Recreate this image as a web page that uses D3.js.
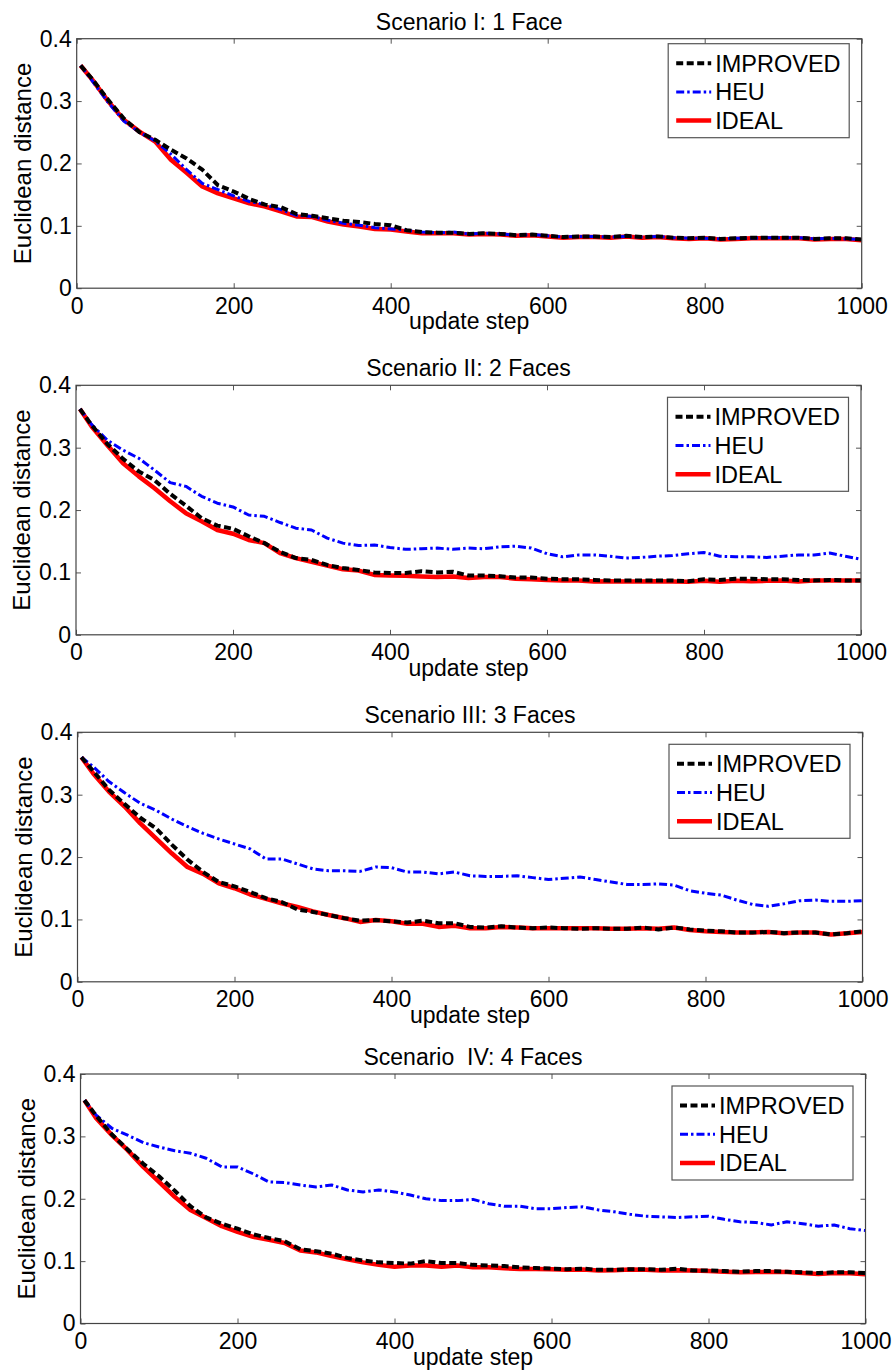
<!doctype html>
<html>
<head>
<meta charset="utf-8">
<script src="https://d3js.org/d3.v7.min.js"></script>
<style>
body { margin:0; background:#fff; }
svg text { font-family: "Liberation Sans", Arial, sans-serif; fill:#000; }
</style>
</head>
<body>
<script>
// update steps shared by every series
var steps = [5,20,40,60,80,100,120,140,160,180,200,220,240,260,280,300,320,340,360,380,400,420,440,460,480,500,520,540,560,580,600,620,640,660,680,700,720,740,760,780,800,820,840,860,880,900,920,940,960,980,1000];

var titles = ['Scenario I: 1 Face', 'Scenario II: 2 Faces', 'Scenario III: 3 Faces', 'Scenario  IV: 4 Faces'];
var seriesNames = ['IMPROVED', 'HEU', 'IDEAL'];
var xTicks = [0,200,400,600,800,1000];
var yTicks = [0,0.1,0.2,0.3,0.4];

// Scenario I
var improved1 = [0.357,0.335,0.302,0.272,0.250,0.238,0.222,0.208,0.190,0.165,0.155,0.143,0.134,0.130,0.119,0.116,0.112,0.108,0.106,0.103,0.101,0.093,0.090,0.089,0.089,0.087,0.088,0.087,0.085,0.086,0.084,0.082,0.083,0.083,0.082,0.084,0.082,0.083,0.081,0.080,0.081,0.079,0.080,0.081,0.081,0.081,0.081,0.079,0.080,0.080,0.078];
var heu1 = [0.357,0.332,0.298,0.268,0.250,0.236,0.215,0.190,0.168,0.158,0.148,0.139,0.134,0.126,0.117,0.115,0.109,0.104,0.101,0.097,0.095,0.093,0.090,0.089,0.090,0.087,0.088,0.087,0.085,0.086,0.084,0.082,0.083,0.083,0.082,0.083,0.082,0.083,0.081,0.080,0.080,0.079,0.080,0.080,0.081,0.081,0.081,0.079,0.080,0.079,0.078];
var ideal1 = [0.357,0.334,0.300,0.270,0.251,0.235,0.206,0.185,0.163,0.152,0.144,0.136,0.131,0.123,0.115,0.114,0.107,0.102,0.099,0.095,0.094,0.091,0.088,0.088,0.088,0.086,0.087,0.086,0.084,0.085,0.083,0.081,0.082,0.082,0.081,0.083,0.081,0.082,0.080,0.079,0.080,0.078,0.079,0.080,0.080,0.080,0.080,0.078,0.079,0.079,0.077];

// Scenario II
var improved2 = [0.362,0.336,0.306,0.282,0.262,0.248,0.226,0.207,0.187,0.175,0.170,0.158,0.147,0.133,0.123,0.120,0.112,0.107,0.104,0.100,0.099,0.099,0.102,0.100,0.101,0.095,0.095,0.094,0.092,0.092,0.090,0.089,0.089,0.088,0.087,0.087,0.087,0.087,0.087,0.086,0.089,0.088,0.090,0.090,0.089,0.089,0.088,0.087,0.088,0.087,0.087];
var heu2 = [0.362,0.337,0.312,0.296,0.283,0.264,0.244,0.238,0.222,0.211,0.205,0.192,0.190,0.180,0.171,0.168,0.155,0.147,0.143,0.144,0.140,0.137,0.138,0.139,0.137,0.139,0.138,0.141,0.142,0.139,0.130,0.125,0.128,0.128,0.126,0.123,0.124,0.126,0.127,0.130,0.132,0.126,0.125,0.125,0.124,0.126,0.128,0.128,0.131,0.126,0.121];
var ideal2 = [0.362,0.334,0.304,0.275,0.254,0.235,0.214,0.195,0.182,0.168,0.162,0.152,0.147,0.131,0.123,0.117,0.111,0.105,0.103,0.096,0.095,0.0945,0.0935,0.0925,0.0935,0.091,0.0925,0.0925,0.090,0.089,0.088,0.087,0.087,0.0855,0.086,0.0855,0.0855,0.086,0.0855,0.085,0.0865,0.085,0.0865,0.086,0.0865,0.087,0.0855,0.087,0.087,0.087,0.087];

// Scenario III
var improved3 = [0.360,0.338,0.308,0.285,0.263,0.246,0.220,0.196,0.176,0.160,0.153,0.144,0.134,0.128,0.116,0.112,0.107,0.102,0.098,0.099,0.097,0.095,0.098,0.094,0.094,0.088,0.087,0.089,0.087,0.086,0.087,0.086,0.085,0.086,0.085,0.085,0.087,0.084,0.087,0.084,0.082,0.081,0.079,0.079,0.080,0.078,0.079,0.079,0.076,0.078,0.081];
var heu3 = [0.360,0.345,0.321,0.303,0.286,0.275,0.261,0.249,0.238,0.229,0.221,0.213,0.197,0.197,0.189,0.181,0.178,0.178,0.177,0.184,0.183,0.176,0.176,0.173,0.176,0.170,0.169,0.169,0.170,0.167,0.164,0.166,0.168,0.164,0.160,0.156,0.156,0.157,0.155,0.146,0.142,0.139,0.131,0.124,0.121,0.125,0.130,0.131,0.129,0.129,0.130];
var ideal3 = [0.360,0.334,0.305,0.281,0.254,0.230,0.206,0.184,0.173,0.158,0.150,0.140,0.133,0.126,0.120,0.113,0.107,0.102,0.096,0.099,0.097,0.093,0.093,0.088,0.090,0.086,0.086,0.088,0.087,0.086,0.086,0.086,0.086,0.086,0.085,0.085,0.086,0.085,0.087,0.083,0.081,0.080,0.079,0.079,0.080,0.078,0.079,0.079,0.076,0.078,0.080];

// Scenario IV
var improved4 = [0.358,0.333,0.303,0.279,0.256,0.236,0.213,0.188,0.170,0.160,0.152,0.143,0.137,0.132,0.119,0.116,0.112,0.105,0.101,0.098,0.097,0.096,0.100,0.097,0.097,0.094,0.093,0.092,0.090,0.089,0.088,0.087,0.088,0.086,0.086,0.087,0.087,0.086,0.088,0.085,0.085,0.084,0.083,0.084,0.084,0.083,0.082,0.081,0.082,0.082,0.081];
var heu4 = [0.358,0.334,0.313,0.302,0.290,0.283,0.277,0.273,0.265,0.251,0.251,0.240,0.227,0.226,0.222,0.219,0.222,0.214,0.211,0.214,0.211,0.206,0.200,0.197,0.197,0.199,0.192,0.188,0.188,0.184,0.184,0.186,0.187,0.182,0.179,0.175,0.172,0.171,0.170,0.171,0.172,0.167,0.163,0.162,0.158,0.163,0.160,0.156,0.158,0.152,0.149];
var ideal4 = [0.358,0.329,0.302,0.278,0.251,0.227,0.203,0.182,0.169,0.156,0.147,0.139,0.134,0.129,0.117,0.114,0.108,0.103,0.098,0.094,0.091,0.093,0.093,0.091,0.093,0.090,0.090,0.0885,0.0875,0.0875,0.087,0.086,0.0865,0.085,0.0855,0.0865,0.086,0.085,0.0855,0.085,0.084,0.083,0.082,0.0825,0.0825,0.0825,0.081,0.0795,0.081,0.0805,0.079];

var panels = [
	{title:titles[0], left:76.7, top:38.7, legTop:5,  data:[improved1, heu1, ideal1]},
	{title:titles[1], left:76,   top:385.3, legTop:12, data:[improved2, heu2, ideal2]},
	{title:titles[2], left:77.5, top:732.3, legTop:12, data:[improved3, heu3, ideal3]},
	{title:titles[3], left:80.5, top:1074, legTop:12, data:[improved4, heu4, ideal4]}
];
var pW = 785, pH = 249.5;

// line looks: IMPROVED, HEU, IDEAL
var styles = [
	{color:'#000000', width:4, dash:'7,3.5'},
	{color:'#0000ff', width:3, dash:'8,3,2.5,3'},
	{color:'#ff0000', width:4.5, dash:null}
];
var drawOrder = [2, 1, 0];

var svg = d3.select('body').append('svg')
	.attr('width', 893).attr('height', 1370)
	.style('display','block');
svg.append('rect').attr('width',893).attr('height',1370).attr('fill','#fff');

panels.forEach(function(p, pi) {
	var g = svg.append('g').attr('transform','translate(' + p.left + ',' + p.top + ')');
	var xScale = d3.scaleLinear().domain([0,1000]).range([0,pW]);
	var yScale = d3.scaleLinear().domain([0,0.4]).range([pH,0]);

	g.append('clipPath').attr('id','clip'+pi)
		.append('rect').attr('width',pW).attr('height',pH);

	// axes, ticks pointing inward like matlab
	var xAxis = d3.axisBottom(xScale).tickValues(xTicks).tickSize(-5).tickPadding(9).tickFormat(d3.format('d'));
	var yAxis = d3.axisLeft(yScale).tickValues(yTicks).tickSize(-5).tickPadding(5).tickFormat(function(d){ return d === 0 ? '0' : d3.format('.1f')(d); });
	var gx = g.append('g').attr('transform','translate(0,' + pH + ')').call(xAxis);
	var gy = g.append('g').call(yAxis);
	var gt = g.append('g').call(d3.axisTop(xScale).tickValues(xTicks).tickSize(-5).tickFormat(''));
	var gr = g.append('g').attr('transform','translate(' + pW + ',0)').call(d3.axisRight(yScale).tickValues(yTicks).tickSize(-5).tickFormat(''));
	[gx, gy, gt, gr].forEach(function(a) {
		a.select('.domain').remove();
		a.selectAll('line').attr('stroke','#555');
		a.selectAll('text').style('font-size','23px').attr('fill','#000');
	});
	gx.selectAll('text').attr('dy','0.71em');

	// series
	var line = d3.line()
		.x(function(d,i){ return xScale(steps[i]); })
		.y(function(d){ return yScale(d); });
	var lg = g.append('g').attr('clip-path','url(#clip' + pi + ')');
	drawOrder.forEach(function(si) {
		var st = styles[si];
		lg.append('path')
			.attr('d', line(p.data[si]))
			.attr('fill','none')
			.attr('stroke', st.color)
			.attr('stroke-width', st.width)
			.attr('stroke-dasharray', st.dash)
			.attr('stroke-linejoin','round');
	});

	// frame
	g.append('rect').attr('width',pW).attr('height',pH)
		.attr('fill','none').attr('stroke','#444').attr('stroke-width',1.2);

	// legend
	var legW = 181, legH = 94;
	var leg = g.append('g').attr('transform','translate(' + (pW - 12.5 - legW) + ',' + p.legTop + ')');
	leg.append('rect').attr('width',legW).attr('height',legH)
		.attr('fill','#fff').attr('stroke','#555').attr('stroke-width',1.2);
	seriesNames.forEach(function(name, si) {
		var yy = 19.5 + si * 28.7;
		var st = styles[si];
		leg.append('line').attr('x1',8).attr('x2',43).attr('y1',yy).attr('y2',yy)
			.attr('stroke', st.color).attr('stroke-width', st.width)
			.attr('stroke-dasharray', st.dash);
		leg.append('text').attr('x',47).attr('y',yy).attr('dy','0.36em')
			.style('font-size','23.5px').text(name);
	});

	// titles and labels
	g.append('text').attr('x',pW/2).attr('y',-9)
		.attr('text-anchor','middle').style('font-size','23px')
		.style('white-space','pre').attr('xml:space','preserve')
		.text(p.title);
	g.append('text').attr('x',pW/2).attr('y',pH + 41)
		.attr('text-anchor','middle').style('font-size','23px')
		.text('update step');
	g.append('text')
		.attr('transform','translate(-46,' + (pH/2) + ') rotate(-90)')
		.attr('text-anchor','middle').style('font-size','24px')
		.text('Euclidean distance');
});
</script>
</body>
</html>
